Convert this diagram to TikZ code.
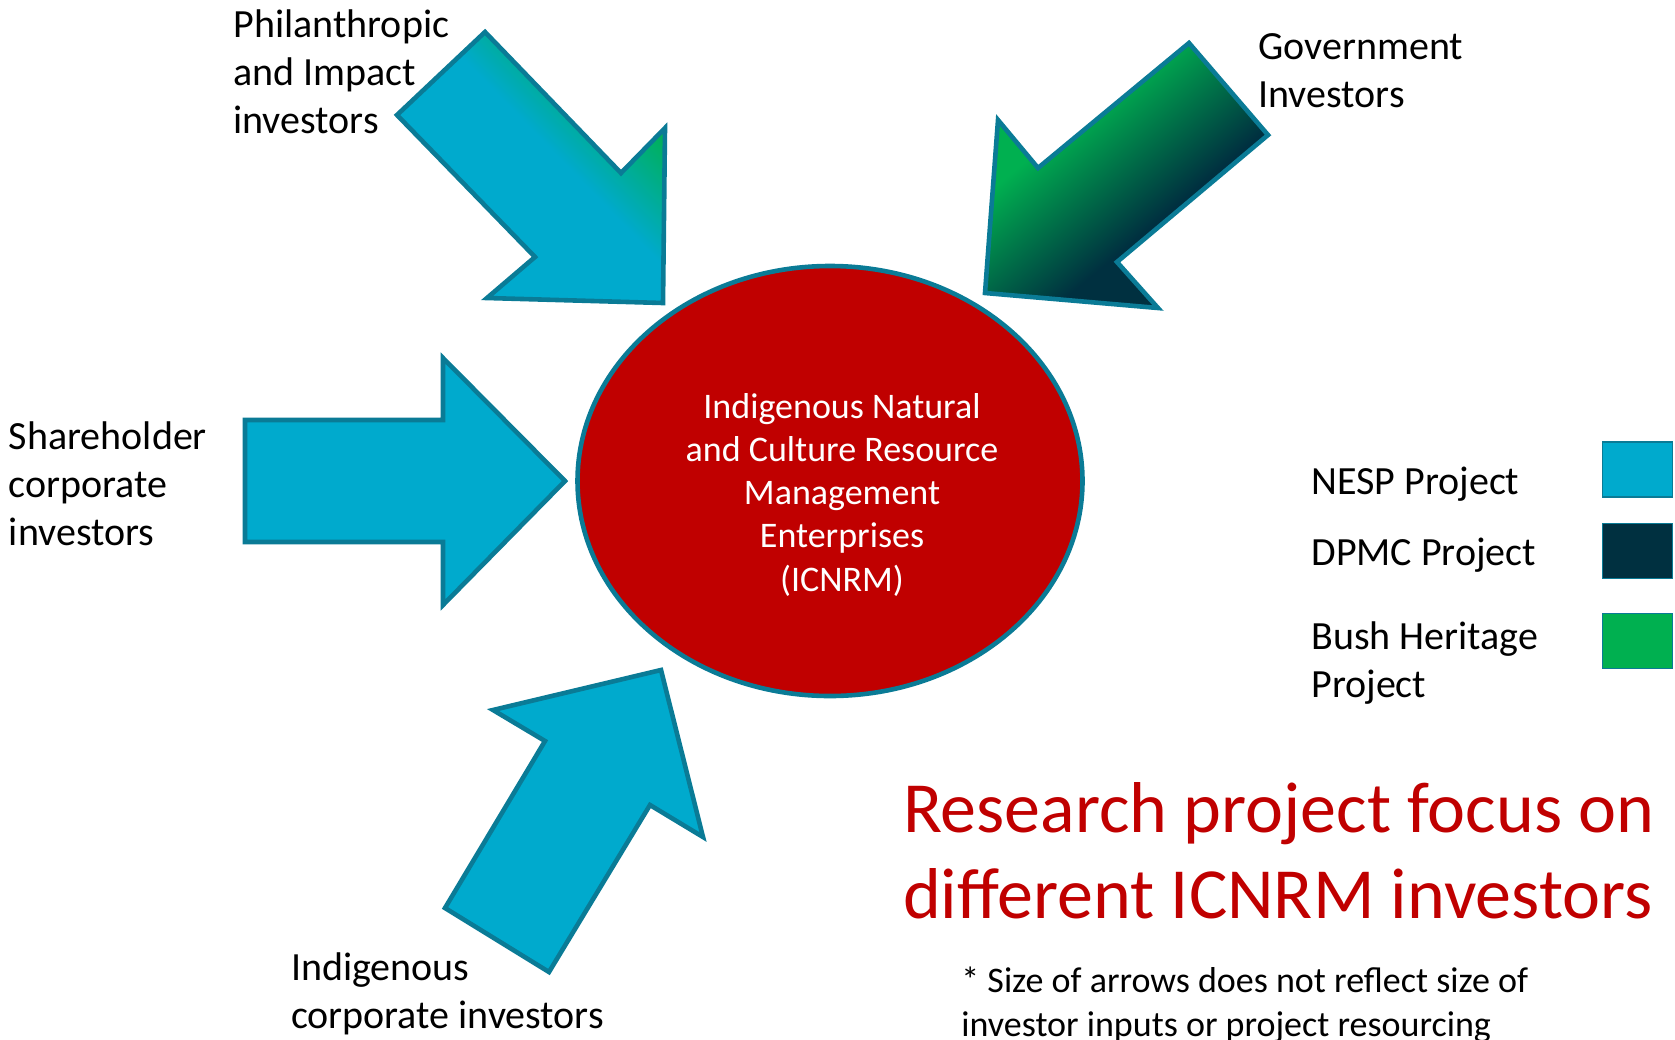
\documentclass[tikz,border=0pt]{standalone}
\usepackage{fontspec}
\setmainfont{Carlito}
\usetikzlibrary{positioning,shapes.geometric}

\definecolor{nesp}{HTML}{00AACD}
\definecolor{dpmc}{HTML}{003040}
\definecolor{bush}{HTML}{00B050}
\definecolor{rimteal}{HTML}{0A7B96}
\definecolor{icred}{HTML}{C00000}
\pgfdeclarehorizontalshading{philshade}{100bp}{color(0bp)=(nesp); color(55bp)=(nesp); color(73bp)=(bush); color(100bp)=(bush)}
\pgfdeclarehorizontalshading{govshade}{100bp}{color(0bp)=(bush); color(36bp)=(bush); color(60bp)=(dpmc); color(100bp)=(dpmc)}

\begin{document}
\begin{tikzpicture}[x=0.5pt,y=-0.5pt,
        rim/.style={draw=rimteal,line width=2.3pt},
        plain label/.style={font=\fontsize{20}{24}\selectfont,align=left,anchor=base west,inner sep=0pt},
        key box/.style={draw=rimteal,line width=0.6pt,minimum width=35pt,minimum height=27.5pt,inner sep=0pt}]
        \useasboundingbox (0,0) rectangle (1675,1039);

        % investor arrows
        \draw[rim,shading=philshade,shading angle=44] (397,115) -- (485,32) -- (621,173) -- (665,128)
            -- (663,303) -- (487,298) -- (535,257) -- cycle;
        \draw[rim,shading=govshade,shading angle=-50] (1189,43) -- (1268,135) -- (1117,262) -- (1158,308)
            -- (985,293) -- (998,120) -- (1038,168) -- cycle;
        \draw[rim,fill=nesp] (245,420) -- (443,420) -- (443,358) -- (565,481)
            -- (443,605) -- (443,542) -- (245,542) -- cycle;
        \draw[rim,fill=nesp] (661,670) -- (703,837) -- (650,805) -- (549,972)
            -- (445,908) -- (545,741) -- (493,710) -- cycle;

        % base anchor = baseline of the last line
        \node[ellipse,rim,fill=icred,minimum width=252.5pt,minimum height=215pt,inner sep=0pt] (icnrm) at (830,481) {};
        \node[font=\fontsize{18}{21.6}\selectfont,text=white,align=center,anchor=base,inner sep=0pt] (icnrmtext) at (842,591)
            {Indigenous Natural\\and Culture Resource\\Management\\Enterprises\\(ICNRM)};

        \node[plain label] (phil) at (233,133) {Philanthropic\\and Impact\\investors};
        \node[plain label] (share) at (8.5,545) {Shareholder\\corporate\\investors};
        \node[plain label] (gov) at (1258,107) {Government\\Investors};
        \node[plain label] (indig) at (290.6,1028) {Indigenous\\corporate investors};

        % legend
        \node[key box,fill=nesp] (nespbox) at (1637.5,469.5) {};
        \node[key box,fill=dpmc,below=12.7pt of nespbox] (dpmcbox) {};
        \node[key box,fill=bush,below=16.7pt of dpmcbox] (bushbox) {};
        \node[plain label] (nesp) at (1311,494) {NESP Project};
        \node[plain label] (dpmc) at (1311,565) {DPMC Project};
        \node[plain label] (bush) at (1311,697) {Bush Heritage\\Project};

        \node[font=\fontsize{36}{43.2}\selectfont,text=icred,align=left,anchor=base west,inner sep=0pt] (focus) at (902.7,918.4)
            {Research project focus on\\different ICNRM investors};
        \node[font=\fontsize{18}{22}\selectfont,align=left,anchor=base west,inner sep=0pt] (note) at (961,1036)
            {* Size of arrows does not reflect size of\\investor inputs or project resourcing};
\end{tikzpicture}
\end{document}
